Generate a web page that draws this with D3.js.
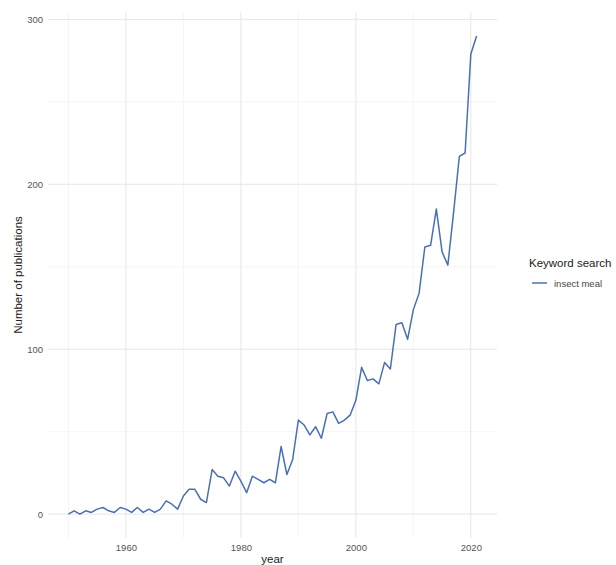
<!DOCTYPE html>
<html>
<head>
<meta charset="utf-8">
<script src="https://cdn.jsdelivr.net/npm/d3@7"></script>
<style>
  html, body { margin: 0; padding: 0; background: #fff; }
  svg { display: block; font-family: "Liberation Sans", Arial, sans-serif; }
</style>
</head>
<body>
<svg id="chart" width="616" height="565"></svg>
<script>
// Yearly publication counts for the keyword "insect meal"
const years = d3.range(1950, 2022);
const counts = [
  0, 2, 0, 2, 1, 3, 4, 2, 1, 4,          // 1950s
  3, 1, 4, 1, 3, 1, 3, 8, 6, 3,          // 1960s
  11, 15, 15, 9, 7, 27, 23, 22, 17, 26,  // 1970s
  20, 13, 23, 21, 19, 21, 19, 41, 24, 33,// 1980s
  57, 54, 48, 53, 46, 61, 62, 55, 57, 60,// 1990s
  69, 89, 81, 82, 79, 92, 88, 115, 116, 106, // 2000s
  124, 134, 162, 163, 185, 159, 151, 183, 217, 219, // 2010s
  279, 290                               // 2020s
];
const seriesName = "insect meal";
const legendTitle = "Keyword search";
const xMajorTicks = [1960, 1980, 2000, 2020];
const xMinorTicks = [1950, 1970, 1990, 2010];
const yMajorTicks = [0, 100, 200, 300];
const yMinorTicks = [50, 150, 250];

const data = years.map((y, i) => ({ year: y, n: counts[i] }));

const panel = { left: 48, right: 497, top: 12, bottom: 538 };

// 5% expansion on both axes, like the plotting defaults
function expand(ext) {
  const pad = (ext[1] - ext[0]) * 0.05;
  return [ext[0] - pad, ext[1] + pad];
}

const x = d3.scaleLinear()
  .domain(expand(d3.extent(years)))
  .range([panel.left, panel.right]);
const y = d3.scaleLinear()
  .domain(expand([0, d3.max(counts)]))
  .range([panel.bottom, panel.top]);

const svg = d3.select("#chart");

// grid
const grid = svg.append("g");
grid.selectAll("line.ymin").data(yMinorTicks).join("line")
  .attr("x1", panel.left).attr("x2", panel.right)
  .attr("y1", d => y(d)).attr("y2", d => y(d))
  .attr("stroke", "#f0f0f0").attr("stroke-width", 0.7);
grid.selectAll("line.xmin").data(xMinorTicks).join("line")
  .attr("y1", panel.top).attr("y2", panel.bottom)
  .attr("x1", d => x(d)).attr("x2", d => x(d))
  .attr("stroke", "#f0f0f0").attr("stroke-width", 0.7);
grid.selectAll("line.ymaj").data(yMajorTicks).join("line")
  .attr("x1", panel.left).attr("x2", panel.right)
  .attr("y1", d => y(d)).attr("y2", d => y(d))
  .attr("stroke", "#e6e6e6").attr("stroke-width", 1);
grid.selectAll("line.xmaj").data(xMajorTicks).join("line")
  .attr("y1", panel.top).attr("y2", panel.bottom)
  .attr("x1", d => x(d)).attr("x2", d => x(d))
  .attr("stroke", "#e6e6e6").attr("stroke-width", 1);

// axes (labels only, no domain line or tick marks)
const yAxis = svg.append("g")
  .attr("transform", `translate(${panel.left},0)`)
  .call(d3.axisLeft(y).tickValues(yMajorTicks).tickSize(0).tickPadding(5));
yAxis.select(".domain").remove();
yAxis.selectAll("text")
  .attr("font-size", "9.5px").attr("fill", "#555")
  .style("font-family", "'Liberation Sans', Arial, sans-serif");

const xAxis = svg.append("g")
  .attr("transform", `translate(0,${panel.bottom})`)
  .call(d3.axisBottom(x).tickValues(xMajorTicks).tickFormat(d3.format("d")).tickSize(0).tickPadding(6));
xAxis.select(".domain").remove();
xAxis.selectAll("text")
  .attr("font-size", "9.5px").attr("fill", "#555")
  .style("font-family", "'Liberation Sans', Arial, sans-serif");

// series line
const line = d3.line().x(d => x(d.year)).y(d => y(d.n));
svg.append("path")
  .datum(data)
  .attr("d", line)
  .attr("fill", "none")
  .attr("stroke", "#4a6fb5")
  .attr("stroke-width", 1.5)
  .attr("stroke-linejoin", "round");

// axis titles
svg.append("text")
  .attr("x", (panel.left + panel.right) / 2)
  .attr("y", 563)
  .attr("text-anchor", "middle")
  .attr("font-size", "11.5px")
  .attr("fill", "#222")
  .text("year");
svg.append("text")
  .attr("transform", `translate(22,${(panel.top + panel.bottom) / 2}) rotate(-90)`)
  .attr("text-anchor", "middle")
  .attr("font-size", "11.5px")
  .attr("fill", "#222")
  .text("Number of publications");

// legend
const legend = svg.append("g").attr("transform", "translate(529,0)");
legend.append("text")
  .attr("x", 0).attr("y", 267)
  .attr("font-size", "11.5px").attr("fill", "#222")
  .text(legendTitle);
legend.append("line")
  .attr("x1", 3).attr("x2", 18)
  .attr("y1", 283).attr("y2", 283)
  .attr("stroke", "#4a6fb5").attr("stroke-width", 1.5);
legend.append("text")
  .attr("x", 25).attr("y", 286.5)
  .attr("font-size", "9.5px").attr("fill", "#444")
  .text(seriesName);
</script>
</body>
</html>
